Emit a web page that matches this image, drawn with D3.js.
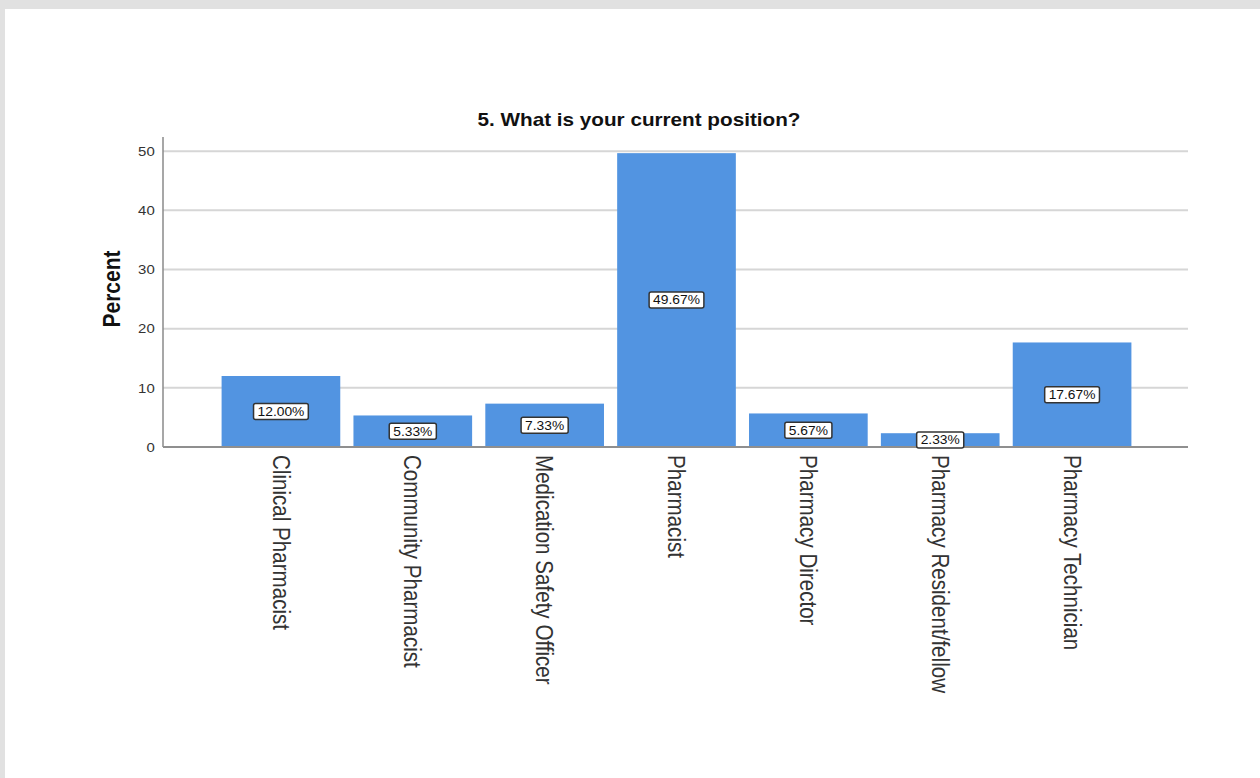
<!DOCTYPE html>
<html>
<head>
<meta charset="utf-8">
<script src="https://cdn.jsdelivr.net/npm/d3@7/dist/d3.min.js"></script>
<style>
  html, body { margin: 0; padding: 0; background: #e1e1e1; }
  svg { display: block; }
  text { font-family: "Liberation Sans", Arial, sans-serif; }
</style>
</head>
<body>
<svg id="chart" width="1260" height="778"></svg>
<script>
// Survey responses: share of respondents by current position
const categories = [
  "Clinical Pharmacist",
  "Community Pharmacist",
  "Medication Safety Officer",
  "Pharmacist",
  "Pharmacy Director",
  "Pharmacy Resident/fellow",
  "Pharmacy Technician"
];
const percents = [12.00, 5.33, 7.33, 49.67, 5.67, 2.33, 17.67];
const yTicks = [0, 10, 20, 30, 40, 50];
const titleText = "5. What is your current position?";
const yTitle = "Percent";

const svg = d3.select("#chart");
const sx = 1.15; // horizontal text stretch

// white panel
svg.append("rect").attr("x", 5).attr("y", 9).attr("width", 1255).attr("height", 769).attr("fill", "#ffffff");

const plot = { left: 163, right: 1188, top: 137, bottom: 447 };

const x = d3.scaleBand()
  .domain(categories)
  .range([215, 1138])
  .paddingInner(0.1)
  .paddingOuter(0.05);

const y = d3.scaleLinear()
  .domain([0, 52.4])
  .range([plot.bottom, plot.top]);

// gridlines
svg.append("g")
  .selectAll("line")
  .data(yTicks.filter(d => d > 0))
  .join("line")
  .attr("x1", plot.left).attr("x2", plot.right)
  .attr("y1", d => y(d)).attr("y2", d => y(d))
  .attr("stroke", "#d6d6d6").attr("stroke-width", 2);

// y axis
const yAxis = d3.axisLeft(y).tickValues(yTicks).tickSize(0).tickPadding(8);
const gy = svg.append("g").attr("transform", `translate(${plot.left},0)`).call(yAxis);
gy.select(".domain").remove();
gy.selectAll(".tick text")
  .attr("font-size", 13)
  .attr("fill", "#333")
  .attr("font-family", "'Liberation Sans', Arial, sans-serif")
  .attr("transform", `translate(-6,0) scale(${sx},1) translate(6,0)`);
svg.append("line")
  .attr("x1", plot.left).attr("x2", plot.left)
  .attr("y1", plot.top).attr("y2", plot.bottom)
  .attr("stroke", "#8a8a8a").attr("stroke-width", 1.5);

// bars
svg.append("g")
  .selectAll("rect")
  .data(categories)
  .join("rect")
  .attr("x", d => x(d))
  .attr("width", x.bandwidth())
  .attr("y", (d, i) => y(percents[i]))
  .attr("height", (d, i) => y(0) - y(percents[i]))
  .attr("fill", "#5294e1");

// baseline
svg.append("line")
  .attr("x1", plot.left).attr("x2", plot.right)
  .attr("y1", y(0)).attr("y2", y(0))
  .attr("stroke", "#8f8f8f").attr("stroke-width", 2);

// value labels
const labels = svg.append("g")
  .selectAll("g")
  .data(categories)
  .join("g")
  .attr("transform", (d, i) => `translate(${x(d) + x.bandwidth() / 2},${(y(percents[i]) + y(0)) / 2})`);
labels.each(function(d, i) {
  const g = d3.select(this);
  const txt = g.append("text")
    .attr("text-anchor", "middle")
    .attr("dy", "0.36em")
    .attr("font-size", 12)
    .attr("fill", "#111")
    .attr("transform", `scale(${sx},1)`)
    .text(percents[i].toFixed(2) + "%");
  const w = txt.node().getComputedTextLength() * sx + 8;
  g.insert("rect", "text")
    .attr("x", -w / 2).attr("y", -8)
    .attr("width", w).attr("height", 16)
    .attr("rx", 2)
    .attr("fill", "#fff")
    .attr("stroke", "#333").attr("stroke-width", 1.5);
});

// category labels (rotated)
svg.append("g")
  .selectAll("text")
  .data(categories)
  .join("text")
  .attr("transform", d => `translate(${x(d) + x.bandwidth() / 2},455) scale(${sx},1) rotate(90)`)
  .attr("dy", "0.35em")
  .attr("font-size", 20.6)
  .attr("fill", "#333")
  .text(d => d);

// y title
svg.append("text")
  .attr("transform", `translate(112,289) scale(${sx},1) rotate(-90)`)
  .attr("text-anchor", "middle")
  .attr("dy", "0.35em")
  .attr("font-size", 21)
  .attr("font-weight", "bold")
  .attr("fill", "#111")
  .text(yTitle);

// chart title
svg.append("text")
  .attr("transform", `translate(639,126) scale(${sx},1)`)
  .attr("text-anchor", "middle")
  .attr("font-size", 18)
  .attr("font-weight", "bold")
  .attr("fill", "#111")
  .text(titleText);
</script>
</body>
</html>
